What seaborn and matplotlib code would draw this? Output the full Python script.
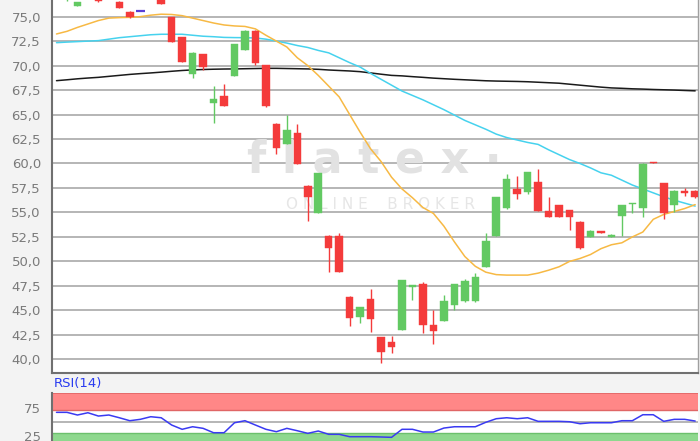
import numpy as np
import pandas as pd
import matplotlib
matplotlib.use("Agg")
import matplotlib.pyplot as plt
import seaborn as sns

# ---------------- data ----------------
opens = [77.2, 76.9, 76.12, 77.0, 77.3, 77.2, 76.53, 75.51, 75.6, 76.9, 77.0, 74.94, 72.9, 69.12, 71.19,
         66.21, 66.93, 68.94, 71.6, 73.57, 70.07, 64.04, 62.02, 63.09, 57.74, 54.98, 52.6, 52.6, 46.4, 44.35,
         46.13, 42.25, 41.74, 43.0, 47.4, 47.69, 43.51, 43.94, 45.55, 45.96, 45.96, 49.46, 52.63, 55.43, 57.37,
         57.12, 58.14, 55.15, 55.76, 55.25, 54.06, 52.47, 53.14, 52.47, 54.62, 55.85, 55.43, 60.13, 57.98,
         55.76, 57.1, 57.22]
closes = [77.5, 77.3, 76.47, 77.4, 76.56, 76.9, 75.89, 74.94, 75.6, 77.3, 76.3, 72.45, 70.4, 71.32, 69.89,
          66.56, 65.91, 72.21, 73.57, 70.3, 65.88, 61.56, 63.45, 59.95, 56.55, 59.0, 51.34, 48.95, 44.19, 45.31,
          44.09, 40.72, 41.29, 48.1, 47.55, 43.51, 42.9, 45.99, 47.66, 48.0, 48.38, 52.09, 56.55, 58.42, 56.89,
          59.1, 55.18, 54.51, 54.57, 54.51, 51.34, 53.14, 52.87, 52.73, 55.74, 55.98, 59.95, 60.03, 54.98,
          57.22, 57.02, 56.55]
highs = [77.8, 77.5, 76.5, 77.8, 77.6, 77.5, 76.6, 75.55, 75.6, 77.6, 77.2, 75.0, 72.95, 71.35, 71.2,
         67.92, 68.12, 72.25, 73.6, 73.6, 70.1, 64.1, 64.96, 64.0, 57.8, 59.05, 52.65, 52.87, 46.45, 45.35,
         47.18, 42.3, 42.41, 48.15, 47.6, 47.87, 45.04, 46.57, 47.7, 48.17, 48.85, 52.87, 56.6, 58.9, 58.73,
         59.15, 59.41, 56.61, 55.8, 55.3, 54.1, 53.2, 53.15, 52.75, 55.8, 56.0, 60.0, 60.15, 58.0,
         57.25, 57.47, 57.25]
lows = [76.9, 76.6, 76.1, 76.8, 76.5, 76.8, 75.85, 74.9, 75.6, 76.8, 76.25, 72.4, 70.35, 68.71, 69.6,
        64.11, 65.9, 68.9, 71.55, 70.07, 65.8, 60.97, 62.0, 59.9, 54.16, 54.95, 48.95, 48.9, 43.4, 43.68,
        42.76, 39.65, 40.61, 42.95, 46.06, 42.72, 41.53, 43.9, 45.04, 45.9, 45.9, 49.4, 52.6, 55.4, 56.35,
        56.89, 55.15, 54.5, 54.5, 53.21, 51.3, 52.45, 52.85, 52.45, 52.6, 54.96, 54.51, 60.0, 54.3,
        55.08, 56.68, 56.5]

ma_short = [73.23, 73.5, 73.9, 74.25, 74.6, 74.85, 74.9, 74.93, 75.0, 75.15, 75.25, 75.22, 75.1, 74.85, 74.6,
            74.35, 74.15, 74.05, 74.0, 73.75, 73.1, 72.5, 71.9, 70.8, 70.0, 69.0, 67.9, 66.8, 65.0, 63.2,
            61.5, 60.2, 58.6, 57.4, 56.5, 55.5, 54.9, 53.6, 52.0, 50.5, 49.5, 48.9, 48.65, 48.6, 48.6,
            48.6, 48.8, 49.1, 49.45, 50.0, 50.3, 50.7, 51.3, 51.7, 51.9, 52.5, 53.0, 54.3, 54.8, 55.1,
            55.4, 55.8]
ma_mid = [72.34, 72.4, 72.45, 72.5, 72.55, 72.7, 72.85, 72.95, 73.05, 73.15, 73.2, 73.2, 73.2, 73.1, 73.0,
          72.95, 72.88, 72.86, 72.85, 72.82, 72.7, 72.5, 72.3, 72.05, 71.85, 71.55, 71.3, 70.8, 70.3, 69.85,
          69.2, 68.6, 68.0, 67.4, 66.95, 66.5, 66.0, 65.5, 64.95, 64.4, 63.95, 63.5, 63.0, 62.65, 62.4,
          62.15, 61.95, 61.4, 60.9, 60.4, 60.0, 59.55, 59.05, 58.8, 58.3, 57.8, 57.4, 57.0, 56.6, 56.25,
          55.95, 55.65]
ma_long = [68.46, 68.55, 68.65, 68.73, 68.8, 68.9, 69.0, 69.1, 69.18, 69.25, 69.33, 69.42, 69.5, 69.56, 69.6,
           69.63, 69.65, 69.66, 69.68, 69.7, 69.72, 69.72, 69.7, 69.68, 69.66, 69.62, 69.55, 69.5, 69.45, 69.38,
           69.25, 69.12, 69.0, 68.95, 68.87, 68.8, 68.72, 68.66, 68.6, 68.55, 68.5, 68.45, 68.42, 68.4, 68.38,
           68.35, 68.3, 68.25, 68.2, 68.1, 68.0, 67.9, 67.8, 67.72, 67.68, 67.63, 67.6, 67.56, 67.53, 67.5,
           67.46, 67.42]
rsi = [66.5, 66.5, 61.8, 65.8, 60.0, 61.8, 57.0, 51.8, 54.2, 58.8, 57.0, 44.2, 36.7, 41.2, 38.4,
       30.7, 30.7, 48.2, 51.8, 44.2, 36.7, 32.5, 38.4, 34.2, 29.6, 33.7, 27.9, 27.9, 23.7, 23.7,
       23.7, 23.2, 22.6, 36.7, 36.7, 31.9, 31.9, 38.9, 41.2, 41.2, 41.2, 49.0, 55.3, 57.0, 55.3,
       57.0, 50.7, 50.7, 50.7, 50.0, 46.5, 48.2, 48.2, 48.2, 51.8, 51.8, 62.3, 62.3, 50.7, 54.2,
       54.2, 51.2]

price_ticks = [40.0, 42.5, 45.0, 47.5, 50.0, 52.5, 55.0, 57.5, 60.0, 62.5, 65.0, 67.5, 70.0, 72.5, 75.0]
rsi_ticks = [25, 75]

# ---------------- styling ----------------
sns.set_theme(style="white")
plt.rcParams['font.family'] = ['DejaVu Sans']

GREEN = '#62c962'
RED = '#f43b3b'
DOJI = '#5a3fd6'
GRID = '#b0b0b0'
TXT = '#7a7a7a'

W, H = 700, 441
fig = plt.figure(figsize=(W / 100, H / 100), dpi=100, facecolor='#f3f3f3')

# main price axes
ax = fig.add_axes([52 / W, (H - 373.3) / H, 646 / W, 373.3 / H])
ax.set_facecolor('white')

df = pd.DataFrame({'open': opens, 'close': closes, 'high': highs, 'low': lows,
                   'ma_short': ma_short, 'ma_mid': ma_mid, 'ma_long': ma_long, 'rsi': rsi})
df['idx'] = np.arange(len(df))

# grid
for t in price_ticks:
    ax.axhline(t, color=GRID, lw=1.3, zorder=0.5)

# watermark
ax.text(30.4, 60.4, 'f l a t e x ·', fontsize=32, fontweight='bold', color='#e2e2e2',
        ha='center', va='center', zorder=0.6)
ax.text(30.9, 55.8, 'O N L I N E    B R O K E R', fontsize=11, color='#e6e6e6',
        ha='center', va='center', zorder=0.6)

# moving averages
sns.lineplot(data=df, x='idx', y='ma_long', ax=ax, color='#1a1a1a', lw=1.1, zorder=2)
sns.lineplot(data=df, x='idx', y='ma_mid', ax=ax, color='#46d2ee', lw=1.1, zorder=2)
sns.lineplot(data=df, x='idx', y='ma_short', ax=ax, color='#f7b944', lw=1.1, zorder=2)

# candles
for i, r in df.iterrows():
    o, c, h, l = r['open'], r['close'], r['high'], r['low']
    if c == o and h == l:
        ax.hlines(o, i - 0.42, i + 0.42, color=DOJI, lw=1.6, zorder=3)
        continue
    col = GREEN if c >= o else RED
    ax.vlines(i, l, h, color=col, lw=1.0, zorder=3)
    bot = min(o, c)
    hgt = max(abs(c - o), 0.12)
    ax.bar(i, hgt, bottom=bot, width=0.72, color=col, edgecolor=col, lw=0.3, zorder=4)

ax.set_xlim(-0.43, 61.27)
ax.set_ylim(38.57, 76.7)
ax.set_yticks(price_ticks)
ax.set_yticklabels([f'{t:.1f}'.replace('.', ',') for t in price_ticks])
ax.set_xticks([])
ax.set_xlabel('')
ax.set_ylabel('')
ax.tick_params(axis='y', length=0, pad=8, labelsize=9.5, labelcolor=TXT)
ax.spines['top'].set_visible(False)
ax.spines['left'].set_color('#707070')
ax.spines['left'].set_linewidth(1.5)
ax.spines['bottom'].set_color('#707070')
ax.spines['bottom'].set_linewidth(1.5)
ax.spines['right'].set_color('#a0a0a0')
ax.spines['right'].set_linewidth(1.0)

# RSI axes
top_px, bot_px = 392.7, 450.2
ax2 = fig.add_axes([52 / W, (H - bot_px) / H, 646 / W, (bot_px - top_px) / H])
ax2.set_facecolor('white')
ax2.axhspan(70, 101, color='#ff8787', lw=0, zorder=0.5)
ax2.axhline(70, color='#e06666', lw=1.0, zorder=0.6)
ax2.axhline(100.6, color='#e06666', lw=1.2, zorder=0.6)
ax2.axhspan(0, 30, color='#8ed88e', lw=0, zorder=0.5)
ax2.axhline(30, color='#6cc06c', lw=1.0, zorder=0.6)
ax2.axhline(50, color=GRID, lw=1.3, zorder=0.7)
sns.lineplot(data=df, x='idx', y='rsi', ax=ax2, color='#3a3af2', lw=1.1, zorder=2)
ax2.set_xlim(-0.43, 61.27)
ax2.set_ylim(0, 101)
ax2.set_yticks(rsi_ticks)
ax2.set_yticklabels([str(t) for t in rsi_ticks])
ax2.set_xticks([])
ax2.set_xlabel('')
ax2.set_ylabel('')
ax2.tick_params(axis='y', length=0, pad=8, labelsize=9.5, labelcolor=TXT)
for s in ['top', 'right', 'bottom']:
    ax2.spines[s].set_visible(False)
ax2.spines['left'].set_color('#707070')
ax2.spines['left'].set_linewidth(1.5)

fig.text(54 / W, (H - 384) / H, 'RSI(14)', color='#2a3cf0', fontsize=9.5, va='center', ha='left')

fig.savefig('out.png', dpi=100, facecolor=fig.get_facecolor())
